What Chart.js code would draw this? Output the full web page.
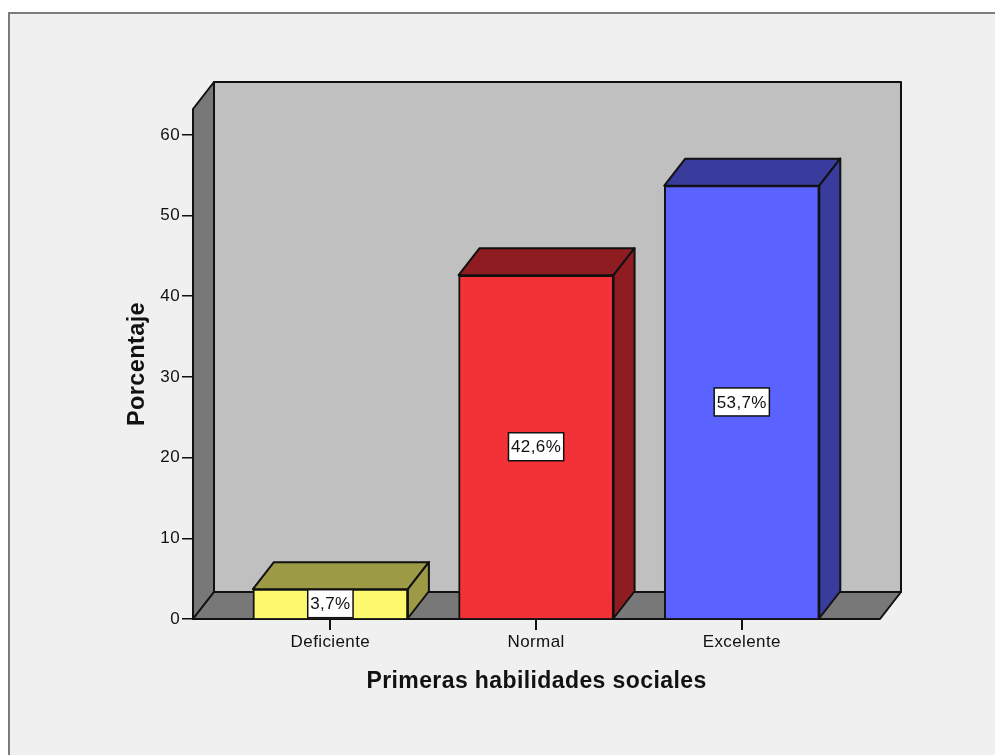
<!DOCTYPE html>
<html>
<head>
<meta charset="utf-8">
<title>Primeras habilidades sociales</title>
<script src="https://cdn.jsdelivr.net/npm/chart.js@4"></script>
<style>
  html, body { margin: 0; padding: 0; background: #fff; overflow: hidden; }
  #panel { position: absolute; left: 8px; top: 12px; width: 1000px; height: 800px; background: #f0f0f0; border: 2px solid #7c7c7c; }
  #chart { position: absolute; left: 0; top: 0; }
</style>
</head>
<body>
<div id="panel"></div>
<canvas id="chart" width="995" height="755"></canvas>
<script>
const categories = ['Deficiente', 'Normal', 'Excelente'];
const percentages = [3.7, 42.6, 53.7];
const valueLabels = ['3,7%', '42,6%', '53,7%'];
const yTicks = [0, 10, 20, 30, 40, 50, 60];
const frontColors = ['#fdf96f', '#f23237', '#5a62ff'];
const sideColors = ['#9c9a45', '#8e1c20', '#393c9c'];

const DEPTH_X = 21, DEPTH_Y = -27;
const LINE = '#111';

function poly(ctx, pts, fill) {
  ctx.beginPath();
  pts.forEach(([x, y], i) => i ? ctx.lineTo(x, y) : ctx.moveTo(x, y));
  ctx.closePath();
  ctx.fillStyle = fill;
  ctx.fill();
  ctx.lineWidth = 2;
  ctx.lineJoin = 'round';
  ctx.strokeStyle = LINE;
  ctx.stroke();
}

// back wall, left wall and floor, plus the sides of each bar
const box3d = {
  id: 'box3d',
  beforeDraw(chart) {
    // text in the reference runs a little wider than Liberation Sans
    chart.ctx.letterSpacing = '0.4px';
  },
  beforeDatasetsDraw(chart) {
    const { ctx, chartArea: a } = chart;
    const dx = DEPTH_X, dy = DEPTH_Y;
    ctx.save();
    poly(ctx, [[a.left + dx, a.top + dy], [a.right + dx, a.top + dy], [a.right + dx, a.bottom + dy], [a.left + dx, a.bottom + dy]], '#c0c0c0');
    poly(ctx, [[a.left, a.bottom], [a.left + dx, a.bottom + dy], [a.left + dx, a.top + dy], [a.left, a.top]], '#787878');
    poly(ctx, [[a.left, a.bottom], [a.right, a.bottom], [a.right + dx, a.bottom + dy], [a.left + dx, a.bottom + dy]], '#787878');
    chart.getDatasetMeta(0).data.forEach((bar, i) => {
      const l = bar.x - bar.width / 2, r = bar.x + bar.width / 2;
      poly(ctx, [[l, bar.y], [r, bar.y], [r + dx, bar.y + dy], [l + dx, bar.y + dy]], sideColors[i]);
      poly(ctx, [[r, bar.y], [r + dx, bar.y + dy], [r + dx, bar.base + dy], [r, bar.base]], sideColors[i]);
    });
    ctx.restore();
  },
  afterDatasetsDraw(chart) {
    const { ctx } = chart;
    ctx.save();
    ctx.font = '17px "Liberation Sans"';
    ctx.textAlign = 'center';
    ctx.textBaseline = 'middle';
    chart.getDatasetMeta(0).data.forEach((bar, i) => {
      const cy = (bar.y + bar.base) / 2;
      const w = ctx.measureText(valueLabels[i]).width + 5;
      const h = 28;
      ctx.fillStyle = '#fff';
      ctx.fillRect(bar.x - w / 2, cy - h / 2, w, h);
      ctx.lineWidth = 1.5;
      ctx.strokeStyle = LINE;
      ctx.strokeRect(bar.x - w / 2, cy - h / 2, w, h);
      ctx.fillStyle = '#111';
      ctx.fillText(valueLabels[i], bar.x, cy + 1);
    });
    ctx.restore();
  }
};

new Chart(document.getElementById('chart'), {
  type: 'bar',
  data: {
    datasets: [{
      data: percentages.map((v, i) => ({ x: i, y: v })),
      backgroundColor: frontColors,
      borderColor: LINE,
      borderWidth: 2,
      barThickness: 155
    }]
  },
  options: {
    responsive: false,
    animation: false,
    layout: { padding: { left: 113, right: 115, top: 109, bottom: 56 } },
    plugins: { legend: { display: false }, tooltip: { enabled: false } },
    scales: {
      x: {
        type: 'linear',
        offset: false,
        min: -0.668,
        max: 2.672,
        afterBuildTicks: s => { s.ticks = categories.map((c, i) => ({ value: i })); },
        afterFit: s => { s.height = 80; },
        grid: { offset: false, drawOnChartArea: false, drawTicks: true, tickLength: 11, color: LINE, lineWidth: 2 },
        border: { display: false },
        ticks: {
          callback: v => categories[v],
          maxRotation: 0,
          padding: 2,
          color: '#111',
          font: { family: '"Liberation Sans"', size: 17 }
        },
        title: {
          display: true,
          text: 'Primeras habilidades sociales',
          color: '#111',
          padding: { top: 0, bottom: 4 },
          font: { family: '"Liberation Sans"', size: 23, weight: 'bold' }
        }
      },
      y: {
        min: 0,
        max: 63.2,
        afterBuildTicks: s => { s.ticks = yTicks.map(v => ({ value: v })); },
        afterFit: s => { s.width = 80; },
        grid: { drawOnChartArea: false, drawTicks: true, tickLength: 11, color: LINE, lineWidth: 1.5 },
        border: { display: false },
        ticks: {
          padding: 2,
          color: '#111',
          font: { family: '"Liberation Sans"', size: 17 }
        },
        title: {
          display: true,
          text: 'Porcentaje',
          color: '#111',
          padding: { top: 10, bottom: 0 },
          font: { family: '"Liberation Sans"', size: 23.5, weight: 'bold' }
        }
      }
    }
  },
  plugins: [box3d]
});
</script>
</body>
</html>
